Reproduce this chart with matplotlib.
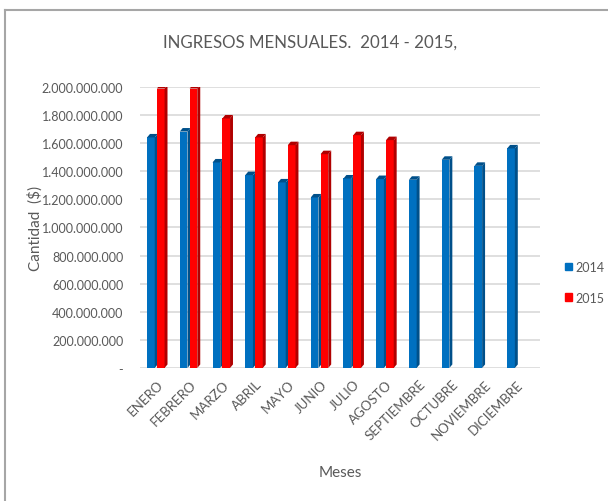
import matplotlib

matplotlib.use("Agg")
import matplotlib.pyplot as plt
from matplotlib.lines import Line2D
from matplotlib.patches import Patch
import matplotlib.transforms as mtransforms
import numpy as np

plt.rcParams["font.family"] = ["Lato", "DejaVu Sans"]

meses = ["ENERO", "FEBRERO", "MARZO", "ABRIL", "MAYO", "JUNIO", "JULIO",
         "AGOSTO", "SEPTIEMBRE", "OCTUBRE", "NOVIEMBRE", "DICIEMBRE"]
ingresos_2014 = [1.640e9, 1.682e9, 1.462e9, 1.372e9, 1.320e9, 1.213e9,
                 1.348e9, 1.344e9, 1.339e9, 1.481e9, 1.438e9, 1.562e9]
ingresos_2015 = [1.988e9, 1.988e9, 1.775e9, 1.640e9, 1.585e9, 1.521e9,
                 1.656e9, 1.621e9]
yticks = np.arange(0, 2.0e9 + 1, 2.0e8)

GRIS = "#595959"
AZUL, AZUL_LADO = "#0070C0", "#00508A"
ROJO, ROJO_LADO = "#FF0000", "#B00000"

fig = plt.figure(figsize=(6.08, 5.02), dpi=100)
# marco del gráfico: solo borde superior e izquierdo visibles
for xs, ys in (([0.008, 1.0], [0.979, 0.979]), ([0.008, 0.008], [0.0, 0.979])):
    fig.add_artist(Line2D(xs, ys, transform=fig.transFigure, color="#A6A6A6", linewidth=1.5))
ax = fig.add_axes([0.230, 0.265, 0.658, 0.560])

w = 0.235   # cara frontal
d = 0.09    # profundidad lateral
dy = 2.5e7  # desplazamiento de la tapa


def barra3d(x0, h, cara, lado, z):
    ax.bar(x0, h, w, align="edge", color=cara, zorder=z, linewidth=0)
    ax.fill([x0 + w, x0 + w + d, x0 + w + d, x0 + w],
            [0, dy, h + dy, h], color=lado, zorder=z, linewidth=0)
    ax.fill([x0, x0 + d, x0 + w + d, x0 + w],
            [h, h + dy, h + dy, h], color=lado, zorder=z, linewidth=0)


x = np.arange(len(meses))
for i, v in enumerate(ingresos_2014):
    barra3d(x[i] - 0.30, v, AZUL, AZUL_LADO, 3)
for i, v in enumerate(ingresos_2015):
    barra3d(x[i], v, ROJO, ROJO_LADO, 4)

ax.set_xlim(-0.52, 11.7)
ax.set_ylim(0, 2.0e9)
ax.set_yticks(yticks)
ax.set_yticklabels(["-" if t == 0 else f"{t:,.0f}".replace(",", ".") for t in yticks],
                   fontsize=9, color=GRIS)
ax.set_xticks(x)
ax.set_xticklabels(meses, rotation=45, ha="right", va="top", rotation_mode="anchor",
                   fontsize=9.5, color=GRIS)
# desplazar etiquetas de meses un poco a la izquierda
desp = mtransforms.ScaledTranslation(-5 / 72, 0, fig.dpi_scale_trans)
for lbl in ax.get_xticklabels():
    lbl.set_transform(lbl.get_transform() + desp)
ax.tick_params(axis="both", length=0)
ax.tick_params(axis="x", pad=7)
ax.tick_params(axis="y", pad=12)
for s in ax.spines.values():
    s.set_visible(False)
ax.grid(axis="y", color="#D9D9D9", linewidth=1.2, zorder=0)
ax.set_axisbelow(True)

ax.set_ylabel("Cantidad  ($)", fontsize=11, color=GRIS, labelpad=-1)
ax.set_xlabel("Meses", fontsize=11, color=GRIS, labelpad=17)
fig.text(0.510, 0.915, "INGRESOS MENSUALES.  2014 - 2015,", ha="center", va="center",
         fontsize=12.2, color=GRIS)

# leyenda
ax.legend(handles=[Patch(color=AZUL, label="2014"), Patch(color=ROJO, label="2015")],
          loc="center left", bbox_to_anchor=(1.035, 0.305), frameon=False, fontsize=9,
          labelcolor=GRIS, handlelength=0.55, handleheight=0.55, handletextpad=0.3,
          labelspacing=1.5)

fig.savefig("out.png", dpi=100, facecolor="white")
